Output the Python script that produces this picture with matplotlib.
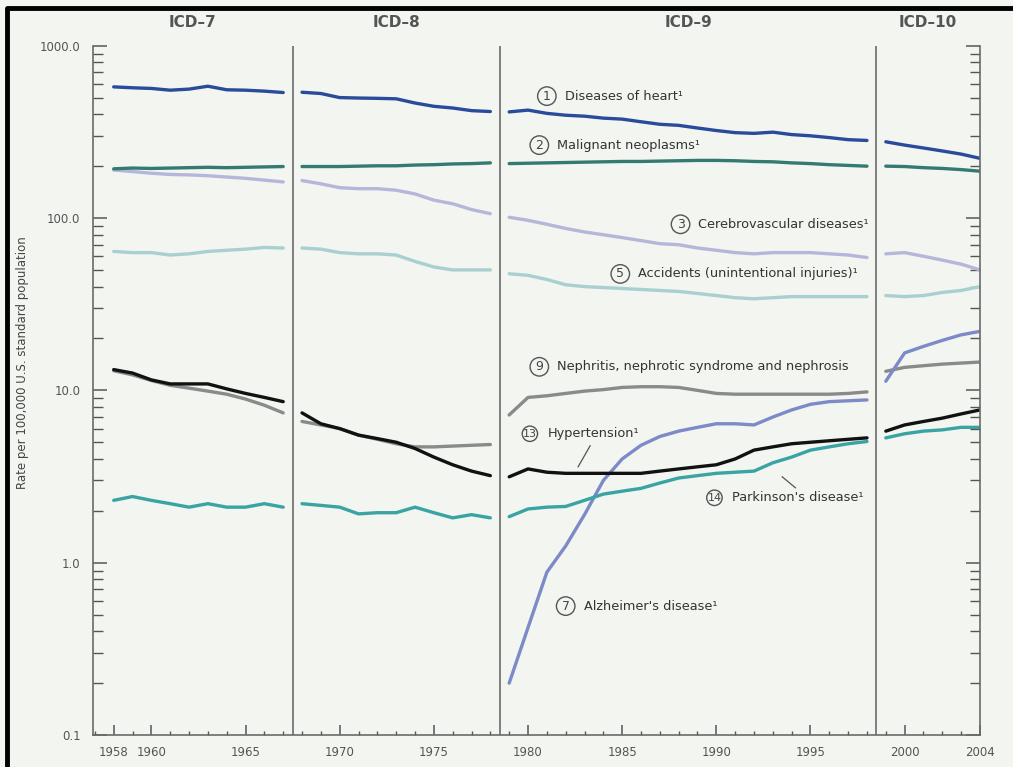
"""Age-adjusted death rates for selected causes, 1958-2004, by ICD revision."""

import matplotlib
matplotlib.use("Agg")
import matplotlib.pyplot as plt
from matplotlib.lines import Line2D
from matplotlib.ticker import FixedLocator, LogLocator, NullFormatter

# years covered by each ICD revision
years_icd7 = list(range(1958, 1968))
years_icd8 = list(range(1968, 1979))
years_icd9 = list(range(1979, 1999))
years_icd10 = list(range(1999, 2005))
icd_breaks = [1967.5, 1978.5, 1998.5]
icd_names = ["ICD\u20137", "ICD\u20138", "ICD\u20139", "ICD\u201310"]

# rates per 100,000, one list per revision (None = not shown)
heart = [
    [577, 570, 565, 552, 560, 582, 555, 552, 545, 535],
    [537, 528, 500, 497, 495, 492, 465, 445, 435, 420, 415],
    [413, 423, 405, 395, 390, 380, 375, 362, 350, 345, 333, 322, 313, 310,
     315, 305, 300, 293, 285, 282],
    [277, 265, 255, 245, 235, 222],
]
cancer = [
    [193, 195, 194, 195, 196, 197, 196, 197, 198, 199],
    [199, 199, 199, 200, 201, 201, 203, 204, 206, 207, 209],
    [207, 208, 209, 210, 211, 212, 213, 213, 214, 215, 216, 216, 215, 213,
     212, 209, 207, 204, 202, 200],
    [200, 199, 196, 194, 191, 187],
]
cerebro = [
    [190, 186, 182, 179, 178, 176, 173, 170, 166, 162],
    [165, 158, 150, 148, 148, 145, 138, 127, 121, 112, 106],
    [101, 97, 92, 87, 83, 80, 77, 74, 71, 70, 67, 65, 63, 62, 63, 63, 63,
     62, 61, 59],
    [62, 63, 60, 57, 54, 50],
]
accidents = [
    [64, 63, 63, 61, 62, 64, 65, 66, 67.5, 67],
    [67, 66, 63, 62, 62, 61, 56, 52, 50, 50, 50],
    [47.5, 46.5, 44, 41, 40, 39.5, 39, 38.5, 38, 37.5, 36.5, 35.5, 34.5, 34,
     34.5, 35, 35, 35, 35, 35],
    [35.5, 35, 35.5, 37, 38, 40],
]
nephritis = [
    [13.0, 12.3, 11.4, 10.7, 10.3, 9.9, 9.5, 8.9, 8.2, 7.4],
    [6.6, 6.3, 6.0, 5.5, 5.2, 4.9, 4.7, 4.7, 4.75, 4.8, 4.85],
    [7.2, 9.1, 9.3, 9.6, 9.9, 10.1, 10.4, 10.5, 10.5, 10.4, 10.0, 9.6, 9.5,
     9.5, 9.5, 9.5, 9.5, 9.5, 9.6, 9.8],
    [12.9, 13.6, 13.9, 14.2, 14.4, 14.6],
]
hypertension = [
    [13.2, 12.6, 11.5, 10.9, 10.9, 10.9, 10.2, 9.6, 9.1, 8.6],
    [7.4, 6.4, 6.0, 5.5, 5.25, 5.0, 4.6, 4.1, 3.7, 3.4, 3.2],
    [3.15, 3.5, 3.35, 3.3, 3.3, 3.3, 3.3, 3.3, 3.4, 3.5, 3.6, 3.7, 4.0, 4.5,
     4.7, 4.9, 5.0, 5.1, 5.2, 5.3],
    [5.8, 6.3, 6.6, 6.9, 7.3, 7.7],
]
parkinson = [
    [2.3, 2.42, 2.3, 2.2, 2.1, 2.2, 2.1, 2.1, 2.2, 2.1],
    [2.2, 2.15, 2.1, 1.92, 1.95, 1.95, 2.1, 1.95, 1.82, 1.9, 1.82],
    [1.85, 2.05, 2.1, 2.12, 2.3, 2.5, 2.6, 2.7, 2.9, 3.1, 3.2, 3.3, 3.35,
     3.4, 3.8, 4.1, 4.5, 4.7, 4.9, 5.05],
    [5.3, 5.6, 5.8, 5.9, 6.1, 6.1],
]
alzheimer = [
    None,
    None,
    [0.2, 0.42, 0.88, 1.25, 1.9, 3.0, 4.0, 4.8, 5.4, 5.8, 6.1, 6.4, 6.4,
     6.3, 7.0, 7.7, 8.3, 8.6, 8.7, 8.8],
    [11.3, 16.5, 18.0, 19.5, 21.0, 22.0],
]

# (number, label, circle x, circle y)
labels = [
    ("1", "Diseases of heart\u00b9", 1981.0, 510),
    ("2", "Malignant neoplasms\u00b9", 1980.6, 265),
    ("3", "Cerebrovascular diseases\u00b9", 1988.1, 92),
    ("5", "Accidents (unintentional injuries)\u00b9", 1984.9, 47.4),
    ("9", "Nephritis, nephrotic syndrome and nephrosis", 1980.6, 13.7),
    ("13", "Hypertension\u00b9", 1980.1, 5.6),
    ("14", "Parkinson's disease\u00b9", 1989.9, 2.38),
    ("7", "Alzheimer's disease\u00b9", 1982.0, 0.56),
]
# leader lines: (x0, x1), (y0, y1)
leaders = [
    ((1983.3, 1982.66), (4.77, 3.6)),
    ((1993.5, 1994.2), (3.15, 2.72)),
]

BG = "#f2f5f0"
period_years = [years_icd7, years_icd8, years_icd9, years_icd10]
series = [
    (cerebro, "#b5b7da"),
    (accidents, "#a9d0d0"),
    (nephritis, "#8a8a8a"),
    (alzheimer, "#7d8ac8"),
    (parkinson, "#3aa3a3"),
    (hypertension, "#111111"),
    (cancer, "#357a72"),
    (heart, "#2a4a9c"),
]

fig = plt.figure(figsize=(10.13, 7.67), dpi=100, facecolor=BG)
ax = fig.add_axes([0.0918, 0.0417, 0.8756, 0.8987], facecolor=BG)

for values, color in series:
    for yrs, vals in zip(period_years, values):
        if vals is None:
            continue
        ax.plot(yrs, vals, color=color, linewidth=2.4, solid_capstyle="round")

for xb in icd_breaks:
    ax.axvline(xb, color="#6a6a6a", linewidth=1.2, zorder=0)

ax.set_yscale("log")
ax.set_ylim(0.1, 1000)
ax.set_xlim(1956.9, 2004)

ax.yaxis.set_major_locator(FixedLocator([0.1, 1, 10, 100, 1000]))
ax.set_yticklabels(["0.1", "1.0", "10.0", "100.0", "1000.0"])
ax.yaxis.set_minor_locator(LogLocator(base=10, subs=range(2, 10)))
ax.yaxis.set_minor_formatter(NullFormatter())
ax.tick_params(axis="y", which="both", direction="in", left=True, right=True,
               colors="#555555", labelsize=8.5, pad=9)
ax.tick_params(axis="y", which="major", length=10, width=1.1)
ax.tick_params(axis="y", which="minor", length=7, width=1.0)

ax.set_xticks([1958, 1960, 1965, 1970, 1975, 1980, 1985, 1990, 1995, 2000, 2004])
ax.set_xticklabels(["1958", "1960", "1965", "1970", "1975", "1980", "1985",
                    "1990", "1995", "2000", "2004"])
ax.xaxis.set_minor_locator(FixedLocator(range(1957, 2005)))
ax.tick_params(axis="x", which="both", direction="in", colors="#555555",
               labelsize=8.5, pad=8)
ax.tick_params(axis="x", which="major", length=7, width=1.1)
ax.tick_params(axis="x", which="minor", length=3, width=1.0)

ax.spines["top"].set_visible(False)
for side in ("left", "right", "bottom"):
    ax.spines[side].set_color("#6a6a6a")
    ax.spines[side].set_linewidth(1.2)

ax.set_ylabel("Rate per 100,000 U.S. standard population", fontsize=8.5,
              color="#444444")
ax.yaxis.set_label_coords(-0.072, 0.54)

# ICD revision headers
bounds = [ax.get_xlim()[0]] + icd_breaks + [ax.get_xlim()[1]]
for name, lo, hi in zip(icd_names, bounds[:-1], bounds[1:]):
    ax.text((lo + hi) / 2, 1.033, name, transform=ax.get_xaxis_transform(),
            ha="center", va="center", fontsize=11, fontweight="bold",
            color="#555555")

# circled numbers and cause names
for num, text, x, y in labels:
    one = len(num) == 1
    ax.text(x, y, num, ha="center", va="center", fontsize=9 if one else 8,
            color="#444444",
            bbox=dict(boxstyle="circle,pad=%s" % ("0.22" if one else "0.06"),
                      fc=BG, ec="#555555", lw=1.0))
    ax.text(x + 0.95, y, text, ha="left", va="center", fontsize=9.3,
            color="#333333")

for xs, ys in leaders:
    ax.plot(xs, ys, color="#555555", linewidth=0.9)

# frame along the top and left edges of the picture
fig.lines.append(Line2D([0.007, 0.007, 1.0], [0.0, 0.99, 0.99],
                        transform=fig.transFigure, color="black", linewidth=3.5))

fig.savefig("out.png", dpi=100, facecolor=BG)
